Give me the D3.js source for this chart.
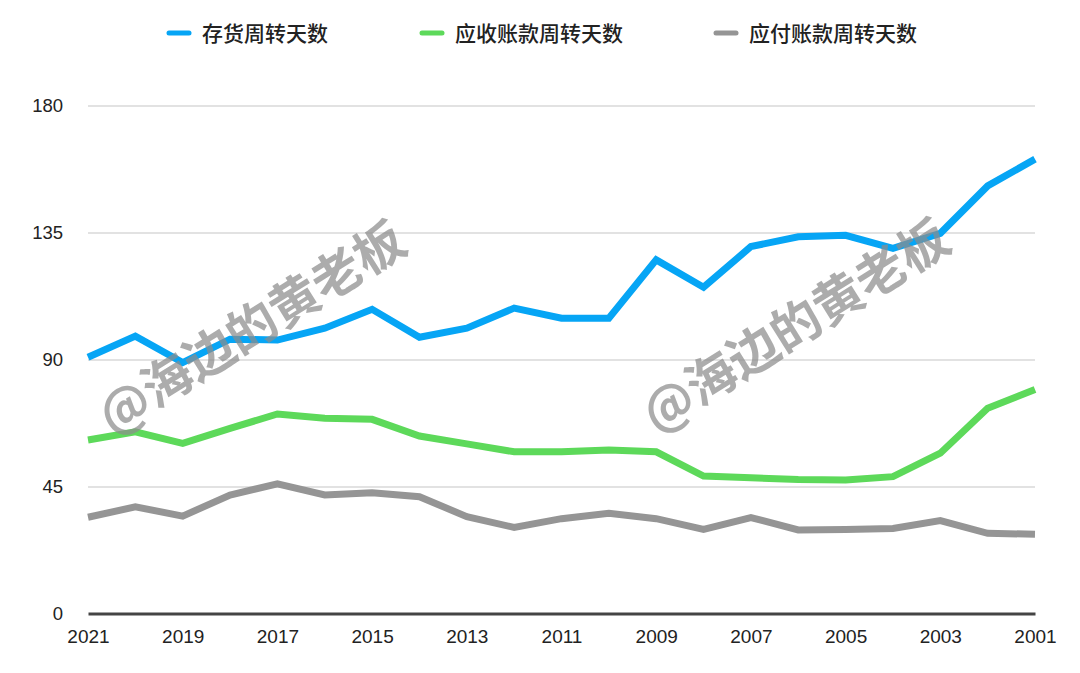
<!DOCTYPE html>
<html>
<head>
<meta charset="utf-8">
<script src="https://cdn.jsdelivr.net/npm/d3@7"></script>
<style>
  html, body { margin: 0; padding: 0; background: #fff; }
  svg { display: block; }
</style>
</head>
<body>
<svg id="chart" width="1080" height="673"></svg>
<script>
const years = [2021,2020,2019,2018,2017,2016,2015,2014,2013,2012,2011,2010,2009,2008,2007,2006,2005,2004,2003,2002,2001];
const xTickLabels = [2021,2019,2017,2015,2013,2011,2009,2007,2005,2003,2001];
const yTicks = [0,45,90,135,180];
const seriesNames = ["存货周转天数","应收账款周转天数","应付账款周转天数"];
const seriesColors = ["#06A5F5","#5DD95A","#959595"];
const inventoryDays = [90.8,98.3,88.9,97.2,96.9,101.1,107.8,97.9,101.1,108.2,104.6,104.6,125.3,115.6,130.0,133.5,134.0,129.4,134.7,151.5,161.0];
const receivableDays = [61.5,64.4,60.3,65.6,70.7,69.2,68.8,62.9,60.1,57.3,57.3,57.9,57.3,48.7,48.1,47.5,47.3,48.5,56.8,72.7,79.4];
const payableDays = [34.1,37.8,34.5,42.0,45.9,42.0,42.8,41.4,34.3,30.5,33.6,35.5,33.6,29.8,34.0,29.6,29.8,30.1,32.9,28.4,28.1];
const watermarkText = "@海边的黄老板";

const svg = d3.select("#chart");
const plotLeft = 88, plotRight = 1035, plotTop = 105.5, plotBottom = 613.5;

const x = d3.scaleLinear().domain([2021, 2001]).range([plotLeft, plotRight]);
const y = d3.scaleLinear().domain([0, 180]).range([plotBottom, plotTop]);

const numFont = "'Liberation Sans', Arial, sans-serif";
const cjkFont = "'Noto Sans CJK SC', 'Noto Sans', sans-serif";

// gridlines
const grid = svg.append("g")
  .attr("transform", `translate(${plotLeft},0)`)
  .call(d3.axisLeft(y).tickValues(yTicks.filter(d => d > 0)).tickSize(-(plotRight - plotLeft)).tickFormat(""));
grid.select(".domain").remove();
grid.selectAll("line").attr("stroke", "#d9d9d9").attr("stroke-width", 1.5);

// y labels
const yAx = svg.append("g")
  .attr("transform", `translate(${plotLeft},0)`)
  .call(d3.axisLeft(y).tickValues(yTicks).tickSize(0).tickPadding(25));
yAx.select(".domain").remove();
yAx.selectAll("text").attr("font-family", numFont).attr("font-size", 18.5).attr("fill", "#222");

// x axis
const xAx = svg.append("g")
  .attr("transform", `translate(0,${plotBottom})`)
  .call(d3.axisBottom(x).tickValues(xTickLabels).tickFormat(d3.format("d")).tickSize(0).tickPadding(16));
xAx.select(".domain").attr("stroke", "#444").attr("stroke-width", 3);
xAx.selectAll("text").attr("font-family", numFont).attr("font-size", 19).attr("fill", "#222");

// lines
const allSeries = [inventoryDays, receivableDays, payableDays];
const line = d3.line().x((d, i) => x(years[i])).y(d => y(d));
allSeries.forEach((vals, k) => {
  svg.append("path")
    .datum(vals)
    .attr("d", line)
    .attr("fill", "none")
    .attr("stroke", seriesColors[k])
    .attr("stroke-width", 7)
    .attr("stroke-linejoin", "miter")
    .attr("stroke-linecap", "butt");
});

// legend
const legendX = [169, 422, 716];
seriesNames.forEach((name, k) => {
  const g = svg.append("g").attr("transform", `translate(${legendX[k]},33)`);
  g.append("line").attr("x1", 0).attr("x2", 20).attr("y1", 0).attr("y2", 0)
    .attr("stroke", seriesColors[k]).attr("stroke-width", 5).attr("stroke-linecap", "round");
  g.append("text").attr("x", 33).attr("y", 0).attr("dy", "0.36em")
    .attr("font-family", cjkFont).attr("font-size", 21).attr("font-weight", 500).attr("fill", "#222")
    .text(name);
});

// watermarks
[[252, 328], [796, 326]].forEach(([cx, cy]) => {
  svg.append("text")
    .attr("transform", `translate(${cx},${cy}) rotate(-32)`)
    .attr("text-anchor", "middle").attr("dy", "0.35em")
    .attr("font-family", cjkFont).attr("font-size", 50).attr("font-weight", 700)
    .attr("fill", "#8c8c8c").attr("fill-opacity", 0.72)
    .text(watermarkText);
});
</script>
</body>
</html>
